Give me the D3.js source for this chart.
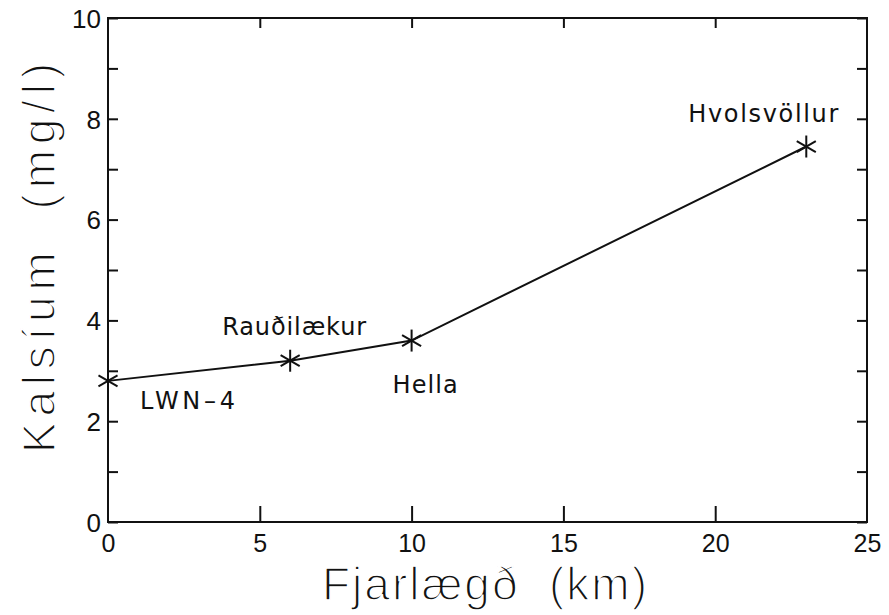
<!DOCTYPE html>
<html>
<head>
<meta charset="utf-8">
<script src="https://cdn.jsdelivr.net/npm/d3@7"></script>
<style>
  html, body { margin: 0; padding: 0; background: #fff; }
  svg { display: block; }
  text { fill: #111; }
</style>
</head>
<body>
<svg id="chart" width="889" height="615"></svg>
<script>
// Calcium concentration along the distance from the source
const sites = ["LWN\u20134", "Rauðilækur", "Hella", "Hvolsvöllur"];
const distanceKm = [0, 6, 10, 23];
const calciumMgL = [2.8, 3.2, 3.6, 7.45];

const xTickValues = [0, 5, 10, 15, 20, 25];
const yTickValues = [0, 2, 4, 6, 8, 10];

const xTitle = "Fjarlægð  (km)";
const yTitle = "Kalsíum  (mg/l)";

const svg = d3.select("#chart");
const plotLeft = 108, plotRight = 867, plotTop = 18, plotBottom = 522;

const x = d3.scaleLinear().domain([0, 25]).range([plotLeft, plotRight]);
const y = d3.scaleLinear().domain([0, 10]).range([plotBottom, plotTop]);

const ink = "#111";
const tickFont = "Liberation Sans, Arial, sans-serif";
const labelFont = "'DejaVu Sans', Verdana, sans-serif";
const titleFont = "Liberation Sans, Arial, sans-serif";

// Frame
svg.append("rect")
  .attr("x", plotLeft).attr("y", plotTop)
  .attr("width", plotRight - plotLeft).attr("height", plotBottom - plotTop)
  .attr("fill", "none").attr("stroke", ink).attr("stroke-width", 2);

// Left axis: ticks every unit pointing inward, labels every 2
const yAxisLeft = d3.axisLeft(y)
  .tickValues(d3.range(0, 11, 1))
  .tickSizeInner(-10).tickSizeOuter(0)
  .tickFormat(d => yTickValues.includes(d) ? d : "");
const gl = svg.append("g").attr("transform", `translate(${plotLeft},0)`).call(yAxisLeft);
gl.select(".domain").remove();
gl.selectAll(".tick line").attr("stroke", ink).attr("stroke-width", 2);
gl.selectAll(".tick text")
  .attr("x", -7).attr("dy", "0.36em")
  .attr("font-family", tickFont).attr("font-size", 26).attr("fill", ink);

// Right axis: inward ticks only
const yAxisRight = d3.axisRight(y)
  .tickValues(d3.range(0, 11, 1))
  .tickSizeInner(-10).tickSizeOuter(0).tickFormat("");
const gr = svg.append("g").attr("transform", `translate(${plotRight},0)`).call(yAxisRight);
gr.select(".domain").remove();
gr.selectAll(".tick line").attr("stroke", ink).attr("stroke-width", 2);

// Bottom axis: longer inward ticks and labels
const xAxisBottom = d3.axisBottom(x)
  .tickValues(xTickValues)
  .tickSizeInner(-16).tickSizeOuter(0);
const gb = svg.append("g").attr("transform", `translate(0,${plotBottom})`).call(xAxisBottom);
gb.select(".domain").remove();
gb.selectAll(".tick line")
  .attr("stroke", ink).attr("stroke-width", 2)
  .attr("display", d => (d === 0 || d === 25) ? "none" : null);
gb.selectAll(".tick text")
  .attr("y", 12).attr("dy", "0.71em")
  .attr("font-family", tickFont).attr("font-size", 25).attr("fill", ink);

// Top axis: short inward ticks
const xAxisTop = d3.axisTop(x)
  .tickValues(xTickValues.filter(d => d > 0 && d < 25))
  .tickSizeInner(-10).tickSizeOuter(0).tickFormat("");
const gt = svg.append("g").attr("transform", `translate(0,${plotTop})`).call(xAxisTop);
gt.select(".domain").remove();
gt.selectAll(".tick line").attr("stroke", ink).attr("stroke-width", 2);

// Axis titles, thinned with a white outline over the fill
function thinTitle(sel) {
  sel.attr("font-family", titleFont)
    .attr("stroke", "#fff").attr("stroke-width", 1.6)
    .attr("lengthAdjust", "spacing")
    .style("white-space", "pre");
}

svg.append("text")
  .attr("x", 322).attr("y", 600)
  .attr("font-size", 46)
  .attr("textLength", 325)
  .call(thinTitle)
  .text(xTitle);

svg.append("text")
  .attr("transform", "translate(55,453) rotate(-90)")
  .attr("x", 0).attr("y", 0)
  .attr("font-size", 46)
  .attr("textLength", 390)
  .call(thinTitle)
  .text(yTitle);

// Data line
const pts = distanceKm.map((d, i) => [d, calciumMgL[i]]);
svg.append("path")
  .datum(pts)
  .attr("fill", "none").attr("stroke", ink).attr("stroke-width", 2)
  .attr("d", d3.line().x(d => x(d[0])).y(d => y(d[1])));

// Asterisk markers: one vertical arm plus two arms at ±30°
const armLen = 11;
const angles = [90, 30, -30].map(a => a * Math.PI / 180);
const markers = svg.append("g");
pts.forEach(p => {
  const cx = x(p[0]), cy = y(p[1]);
  angles.forEach(a => {
    markers.append("line")
      .attr("x1", cx - armLen * Math.cos(a)).attr("y1", cy - armLen * Math.sin(a))
      .attr("x2", cx + armLen * Math.cos(a)).attr("y2", cy + armLen * Math.sin(a))
      .attr("stroke", ink).attr("stroke-width", 2);
  });
});

// Site labels, placed relative to their points
const labelOffsets = [
  { dx: 32, dy: 28, w: 95 },    // LWN-4
  { dx: -68, dy: -26, w: 144 }, // Rauðilækur
  { dx: -19, dy: 52, w: 65 },   // Hella
  { dx: -118, dy: -25, w: 150 } // Hvolsvöllur
];
svg.append("g").selectAll("text")
  .data(sites)
  .join("text")
  .attr("x", (d, i) => x(distanceKm[i]) + labelOffsets[i].dx)
  .attr("y", (d, i) => y(calciumMgL[i]) + labelOffsets[i].dy)
  .attr("font-family", labelFont)
  .attr("font-size", 24)
  .attr("textLength", (d, i) => labelOffsets[i].w)
  .attr("lengthAdjust", "spacing")
  .attr("fill", ink)
  .text(d => d);
</script>
</body>
</html>
